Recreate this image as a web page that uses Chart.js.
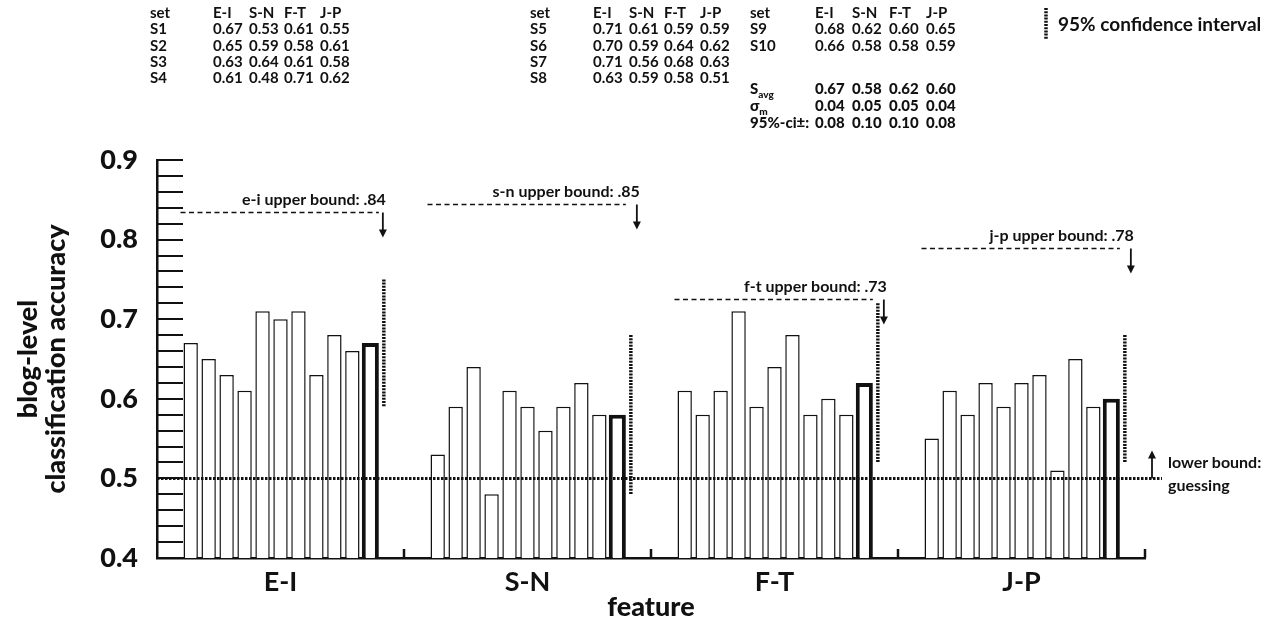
<!DOCTYPE html>
<html><head><meta charset="utf-8">
<script src="https://cdn.jsdelivr.net/npm/chart.js@4.4.1/dist/chart.umd.min.js"></script>
<style>
html,body{margin:0;padding:0;background:#fff;}
#wrap{position:relative;width:1275px;height:628px;overflow:hidden;}
canvas{position:absolute;left:0;top:0;}
.t{position:absolute;font-family:Lato,'Open Sans',sans-serif;font-weight:700;font-size:15px;color:#111;white-space:nowrap;line-height:1;transform:translateY(-50%);}
.t sub{font-size:10px;vertical-align:-4px;line-height:0;}
.heavy{font-weight:900;}
.leg{font-size:19px;}
.lb{font-size:16px;}
</style></head><body>
<div id="wrap"><canvas id="c" width="1275" height="628"></canvas><div id="tables"></div></div>
<script>
// ---------- data ----------
const categories = ['E-I', 'S-N', 'F-T', 'J-P'];
const setNames = ['S1','S2','S3','S4','S5','S6','S7','S8','S9','S10'];
const S1  = [0.67, 0.53, 0.61, 0.55];
const S2  = [0.65, 0.59, 0.58, 0.61];
const S3  = [0.63, 0.64, 0.61, 0.58];
const S4  = [0.61, 0.48, 0.71, 0.62];
const S5  = [0.71, 0.61, 0.59, 0.59];
const S6  = [0.70, 0.59, 0.64, 0.62];
const S7  = [0.71, 0.56, 0.68, 0.63];
const S8  = [0.63, 0.59, 0.58, 0.51];
const S9  = [0.68, 0.62, 0.60, 0.65];
const S10 = [0.66, 0.58, 0.58, 0.59];
const sAvg   = [0.67, 0.58, 0.62, 0.60];
const sigmaM = [0.04, 0.05, 0.05, 0.04];
const ci95   = [0.08, 0.10, 0.10, 0.08];
const upperBoundLabels = ['e-i upper bound: .84', 's-n upper bound: .85', 'f-t upper bound: .73', 'j-p upper bound: .78'];
const upperBoundLevels = [0.835, 0.845, 0.725, 0.79];
const lowerBound = 0.5;
const lowerBoundLabel = ['lower bound:', 'guessing'];
const legendLabel = '95% confidence interval';
const yTitle = ['blog-level', 'classification accuracy'];
const xTitle = 'feature';
const setSeries = [S1,S2,S3,S4,S5,S6,S7,S8,S9,S10];

// ---------- tables (text) ----------
const tableGroups = [[0,1,2,3],[4,5,6,7],[8,9]];
const tableX = [150, 530, 750];
const colOff = [63, 99, 134, 170];
const colOff3 = [65, 102, 139, 176];
const rowY = [12, 28, 45, 61, 77];
const extraRowY = [88, 105, 122];
const tbl = document.getElementById('tables');
function addText(x, y, html, cls){
  const d = document.createElement('div');
  d.className = 't' + (cls ? ' ' + cls : '');
  d.style.left = x + 'px'; d.style.top = y + 'px';
  d.innerHTML = html; tbl.appendChild(d);
}
tableGroups.forEach((g, ti) => {
  const x0 = tableX[ti];
  const off = ti === 2 ? colOff3 : colOff;
  addText(x0, rowY[0], 'set');
  categories.forEach((c, ci) => addText(x0 + off[ci], rowY[0], c));
  g.forEach((si, ri) => {
    addText(x0, rowY[ri+1], setNames[si]);
    setSeries[si].forEach((v, ci) => addText(x0 + off[ci], rowY[ri+1], v.toFixed(2)));
  });
});
const extraRows = [['S<sub>avg</sub>', sAvg], ['&sigma;<sub>m</sub>', sigmaM], ['95%-ci&plusmn;:', ci95]];
extraRows.forEach((r, ri) => {
  addText(tableX[2], extraRowY[ri], r[0], 'heavy');
  r[1].forEach((v, ci) => addText(tableX[2] + colOff3[ci], extraRowY[ri], v.toFixed(2), 'heavy'));
});
addText(1058, 23, legendLabel, 'leg');
addText(1168, 462, lowerBoundLabel[0], 'lb');
addText(1168, 485, lowerBoundLabel[1], 'lb');

// ---------- chart ----------
const INK = '#111';
const datasets = setSeries.map((arr, i) => ({
  label: setNames[i], data: arr,
  backgroundColor: '#fff', borderColor: INK, borderWidth: 1.5,
  barPercentage: 0.8, categoryPercentage: 0.8
}));
datasets.push({
  label: 'Savg', data: sAvg,
  backgroundColor: '#fff', borderColor: INK, borderWidth: 4,
  barPercentage: 0.95, categoryPercentage: 0.8
});

function line(ctx, x1, y1, x2, y2){ ctx.beginPath(); ctx.moveTo(x1, y1); ctx.lineTo(x2, y2); ctx.stroke(); }
function arrow(ctx, x, yFrom, yTo){
  const dir = yTo > yFrom ? 1 : -1;
  ctx.setLineDash([]); ctx.lineWidth = 1.8;
  line(ctx, x, yFrom, x, yTo - dir * 6);
  ctx.beginPath(); ctx.moveTo(x - 4, yTo - dir * 8); ctx.lineTo(x + 4, yTo - dir * 8); ctx.lineTo(x, yTo); ctx.closePath(); ctx.fill();
}

const overlay = {
  id: 'overlay',
  afterDatasetsDraw(chart){
    const {ctx, chartArea: a, scales: {x, y}} = chart;
    ctx.save();
    ctx.strokeStyle = INK; ctx.fillStyle = INK;
    ctx.lineWidth = 2;
    y.ticks.forEach(t => {
      const py = Math.round(y.getPixelForValue(t.value));
      line(ctx, a.left, py, a.left + 26, py);
    });
    const half = (x.getPixelForValue(1) - x.getPixelForValue(0)) / 2;
    ctx.lineWidth = 2.5;
    categories.forEach((c, i) => {
      const px = x.getPixelForValue(i) + half;
      line(ctx, px, a.bottom, px, a.bottom - 9);
    });
    const yLB = y.getPixelForValue(lowerBound);
    ctx.lineWidth = 3; ctx.setLineDash([2.5, 1.5]);
    line(ctx, a.left, yLB, a.right + 17, yLB);
    arrow(ctx, a.right + 7, yLB, y.getPixelForValue(lowerBound + 0.035));
    const avgMeta = chart.getDatasetMeta(datasets.length - 1);
    const firstMeta = chart.getDatasetMeta(0);
    ctx.font = '700 16px Lato, "Open Sans", sans-serif';
    ctx.textAlign = 'right'; ctx.textBaseline = 'alphabetic';
    categories.forEach((c, i) => {
      const bar = avgMeta.data[i];
      const first = firstMeta.data[i];
      const cx = bar.x + bar.width / 2 + 5;
      ctx.lineWidth = 3.5; ctx.setLineDash([2, 1.2]);
      line(ctx, cx, y.getPixelForValue(sAvg[i] + ci95[i]), cx, y.getPixelForValue(sAvg[i] - ci95[i]));
      const yU = Math.round(y.getPixelForValue(upperBoundLevels[i])) + 0.5;
      ctx.lineWidth = 1.6; ctx.setLineDash([5, 3.5]);
      line(ctx, first.x - first.width / 2 - 3, yU, bar.x + bar.width / 2, yU);
      const ax = cx + (i === 0 ? -1 : 6);
      arrow(ctx, ax, yU, yU + 25);
      ctx.fillText(upperBoundLabels[i], ax + 3, yU - 8);
    });
    ctx.lineWidth = 3.5; ctx.setLineDash([2, 1.2]);
    line(ctx, 1046, 8, 1046, 40);
    ctx.restore();
  }
};

new Chart(document.getElementById('c'), {
  type: 'bar',
  data: { labels: categories, datasets },
  options: {
    responsive: false, animation: false,
    layout: { padding: { top: 160, right: 130, left: 0, bottom: 0 } },
    plugins: { legend: { display: false }, tooltip: { enabled: false } },
    scales: {
      x: {
        grid: { drawOnChartArea: false, drawTicks: false },
        border: { color: INK, width: 2.5 },
        ticks: { color: INK, font: { family: 'Lato', size: 27, weight: 700 }, padding: 8 },
        title: { display: true, text: xTitle, color: INK, font: { family: 'Lato', size: 27, weight: 900 }, padding: { top: 0, bottom: 5 } },
        afterFit(s){ s.height = 70; }
      },
      y: {
        min: 0.4, max: 0.9,
        grid: { drawOnChartArea: false, drawTicks: false },
        border: { color: INK, width: 2.5 },
        ticks: {
          stepSize: 0.02, maxTicksLimit: 100, autoSkip: false, color: INK, padding: 19,
          font: { family: 'Lato', size: 27, weight: 900 },
          callback: v => { const r = Math.round(v * 10) / 10; return Math.abs(v - r) < 1e-6 ? r.toFixed(1) : ''; }
        },
        title: { display: true, text: yTitle, color: INK, font: { family: 'Lato', size: 27, weight: 900, lineHeight: 1.05 }, padding: { top: 14, bottom: 0 } },
        afterFit(s){ s.width = 157; }
      }
    }
  },
  plugins: [overlay]
});
</script>
</body></html>
